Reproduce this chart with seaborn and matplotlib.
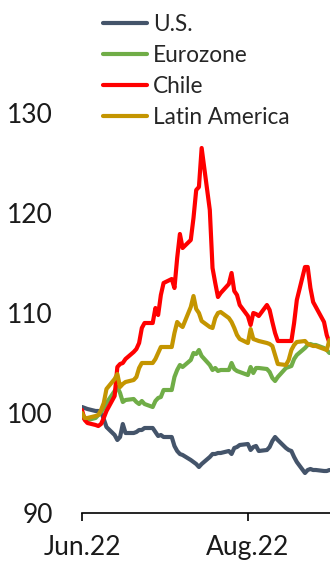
import numpy as np
import pandas as pd
import matplotlib
matplotlib.use("Agg")
import matplotlib.pyplot as plt
import matplotlib.dates as mdates
import seaborn as sns

dates = pd.bdate_range("2022-06-01", "2022-08-31")

us = [100.6, 100.5, 100.4, 100.2, 100.2, 100.1, 99.4, 98.6, 97.8, 97.3,
      97.6, 98.9, 98.0, 98.0, 98.1, 98.3, 98.3, 98.5, 98.5, 98.1,
      97.7, 97.8, 97.6, 97.6, 96.7, 96.2, 95.9, 95.8, 95.3, 95.1,
      94.9, 94.6, 94.9, 95.6, 95.9, 95.9, 96.0, 96.0, 96.2, 95.9,
      96.5, 96.6, 96.8, 96.9, 96.3, 96.6, 96.7, 96.2, 96.3, 96.6,
      97.2, 97.6, 97.3, 96.5, 96.3, 96.2, 95.6, 95.1, 94.0, 94.3,
      94.4, 94.3, 94.3, 94.2, 94.2, 94.3]

eurozone = [99.6, 99.4, 99.3, 99.5, 99.8, 100.1, 100.5, 101.0, 102.2, 102.6,
            102.0, 101.1, 101.3, 101.4, 101.1, 100.9, 101.2, 100.9, 100.6, 101.2,
            101.5, 101.6, 102.3, 102.3, 103.6, 104.3, 104.8, 104.6, 105.3, 106.0,
            105.9, 106.3, 105.7, 104.8, 104.3, 104.5, 104.2, 104.3, 104.3, 105.0,
            104.4, 104.2, 104.1, 103.8, 104.6, 104.0, 104.5, 104.5, 104.4, 104.1,
            103.5, 103.2, 103.6, 104.5, 104.6, 104.7, 105.4, 105.8, 106.5, 106.8,
            106.9, 106.8, 106.8, 106.5, 106.3, 106.0]

chile = [100.3, 99.3, 99.0, 98.8, 98.7, 98.9, 99.5, 100.2, 101.7, 104.6,
         104.9, 105.0, 105.4, 106.1, 106.4, 107.0, 108.5, 109.0, 109.0, 110.5,
         109.8, 111.8, 113.0, 113.4, 112.5, 115.5, 117.9, 116.5, 117.3, 119.5,
         122.3, 122.6, 126.5, 120.3, 114.5, 113.0, 111.6, 112.0, 112.9, 114.0,
         112.2, 111.8, 110.8, 109.7, 108.8, 110.0, 109.9, 109.7, 110.8, 110.3,
         109.1, 108.0, 107.2, 107.2, 107.2, 107.2, 109.0, 111.3, 114.6, 114.6,
         112.5, 111.1, 110.6, 109.1, 107.8, 107.0]

latam = [100.0, 99.5, 99.5, 99.7, 99.8, 100.3, 101.0, 102.4, 103.4, 103.9,
         102.6, 102.9, 103.1, 103.3, 103.6, 104.5, 105.0, 105.0, 105.0, 105.4,
         106.0, 106.6, 106.6, 106.6, 108.0, 109.1, 108.8, 108.6, 110.6, 111.7,
         110.4, 110.0, 109.2, 108.6, 108.5, 109.5, 110.0, 110.1, 109.5, 109.1,
         108.5, 107.8, 107.4, 107.0, 108.4, 107.4, 107.3, 107.2, 107.0, 106.9,
         106.7, 105.8, 104.9, 104.8, 105.3, 106.3, 106.8, 107.1, 107.2, 106.9,
         106.8, 106.7, 106.7, 106.4, 106.3, 107.3]

series_names = ["U.S.", "Eurozone", "Chile", "Latin America"]
colors = ["#44546A", "#70AD47", "#FF0000", "#C49500"]
y_ticks = [90, 100, 110, 120, 130]

frames = []
for name, vals in zip(series_names, [us, eurozone, chile, latam]):
    n = min(len(dates), len(vals))
    frames.append(pd.DataFrame({"date": dates[:n], "value": vals[:n], "series": name}))
df = pd.concat(frames, ignore_index=True)

sns.set_style("white")
plt.rcParams["font.family"] = ["Lato", "DejaVu Sans"]

W, H = 330, 564
fig = plt.figure(figsize=(W / 100, H / 100), dpi=100)
ax = fig.add_axes([82 / W, (H - 513) / H, 1 - 82 / W, (513 - 113) / H])

sns.lineplot(data=df, x="date", y="value", hue="series", hue_order=series_names,
             palette=dict(zip(series_names, colors)), linewidth=3.0, ax=ax)

ax.set_ylim(90, 130)
ax.set_yticks(y_ticks)
ax.set_xlim(pd.Timestamp("2022-06-01"), pd.Timestamp("2022-06-01") + pd.Timedelta(days=91.2))
ax.xaxis.set_major_locator(mdates.MonthLocator(bymonth=[2, 4, 6, 8, 10, 12]))
ax.xaxis.set_major_formatter(mdates.DateFormatter("%b.%y"))
ax.set_xlabel("")
ax.set_ylabel("")

for s in ["top", "right", "left"]:
    ax.spines[s].set_visible(False)
ax.spines["bottom"].set_color("#000000")
ax.spines["bottom"].set_linewidth(1.2)
ax.tick_params(axis="x", direction="out", length=5.5, width=1.2, color="#000000",
               labelsize=19, pad=10, labelcolor="#1a1a1a", bottom=True)
ax.tick_params(axis="y", length=0, labelsize=19, pad=21, labelcolor="#1a1a1a")

handles, labels = ax.get_legend_handles_labels()
ax.get_legend().remove()
fig.legend(handles, labels, loc="upper left", bbox_to_anchor=(103 / W, 1 - 14 / H),
           frameon=False, fontsize=16.3, handlelength=1.95, handletextpad=0.25,
           labelspacing=0.44, borderpad=0, borderaxespad=0)

fig.savefig("out.png", dpi=100)
